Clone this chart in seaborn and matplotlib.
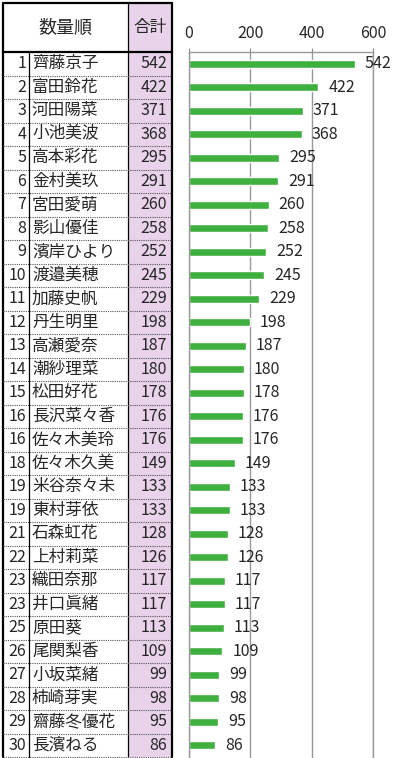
import seaborn as sns
import matplotlib.pyplot as plt
import pandas as pd

ranks = [1, 2, 3, 4, 5, 6, 7, 8, 9, 10, 11, 12, 13, 14, 15,
         16, 16, 18, 19, 19, 21, 22, 23, 23, 25, 26, 27, 28, 29, 30]
names = ["齊藤京子", "富田鈴花", "河田陽菜", "小池美波", "高本彩花", "金村美玖",
         "宮田愛萌", "影山優佳", "濱岸ひより", "渡邉美穂", "加藤史帆", "丹生明里",
         "高瀬愛奈", "潮紗理菜", "松田好花", "長沢菜々香", "佐々木美玲", "佐々木久美",
         "米谷奈々未", "東村芽依", "石森虹花", "上村莉菜", "織田奈那", "井口眞緒",
         "原田葵", "尾関梨香", "小坂菜緒", "柿崎芽実", "齋藤冬優花", "長濱ねる"]
totals = [542, 422, 371, 368, 295, 291, 260, 258, 252, 245, 229, 198, 187, 180, 178,
          176, 176, 149, 133, 133, 128, 126, 117, 117, 113, 109, 99, 98, 95, 86]
x_ticks = [0, 200, 400, 600]
header_left = "数量順"
header_sum = "合計"

sns.set_style("white")
plt.rcParams['font.family'] = ['Noto Sans CJK JP', 'DejaVu Sans']

W, H = 400, 758
fig = plt.figure(figsize=(W / 100, H / 100), dpi=100)

# table drawn in pixel coordinates
tab = fig.add_axes([0, 0, 1, 1])
tab.set_xlim(0, W)
tab.set_ylim(H, 0)
tab.axis("off")

row_h = 23.5
top, head_bot = 3, 52
x_left, x_rank, x_name, x_right = 3, 29, 128, 172
pink = "#e8d3ea"
n = len(names)
bottom = head_bot + row_h * n

tab.add_patch(plt.Rectangle((x_name, top), x_right - x_name, bottom - top,
                            facecolor=pink, edgecolor="none", zorder=0))
# vertical lines
tab.plot([x_left, x_left], [top, bottom], color="black", lw=1.6)
tab.plot([x_right, x_right], [top, bottom], color="black", lw=1.6)
tab.plot([x_name, x_name], [top, bottom], color="black", lw=0.9)
tab.plot([x_rank, x_rank], [head_bot, bottom], color="black", lw=0.9)
# horizontal lines
tab.plot([x_left, x_right], [top, top], color="black", lw=1.6)
tab.plot([x_left, x_right], [head_bot, head_bot], color="black", lw=1.6)
for i in range(1, n + 1):
    y = head_bot + row_h * i
    tab.plot([x_left, x_right], [y, y], color="#555555", lw=0.8,
             linestyle=(0, (1, 1)))

tab.text((x_left + x_name) / 2, (top + head_bot) / 2, header_left,
         ha="center", va="center", fontsize=13)
tab.text((x_name + x_right) / 2, (top + head_bot) / 2, header_sum,
         ha="center", va="center", fontsize=12)

for i, (r, nm, t) in enumerate(zip(ranks, names, totals)):
    yc = head_bot + row_h * (i + 0.5)
    tab.text(x_rank - 3, yc, str(r), ha="right", va="center", fontsize=11.5)
    tab.text(x_rank + 3, yc, nm, ha="left", va="center", fontsize=12)
    tab.text(x_right - 5, yc, str(t), ha="right", va="center", fontsize=11.5)

# bar chart
df = pd.DataFrame({"name": names, "total": totals})
ax_left, ax_right = 189, 373
ax = fig.add_axes([ax_left / W, 0, (ax_right - ax_left) / W, 1 - head_bot / H])
sns.barplot(data=df, x="total", y="name", color="#3fb040", width=0.36,
            saturation=1, ax=ax)
ax.set_xlim(0, 600)
ax.set_ylim(-0.5 + (H - head_bot) / row_h, -0.5)
ax.set_xticks(x_ticks)
ax.set_yticks([])
ax.set_xlabel("")
ax.set_ylabel("")
ax.xaxis.tick_top()
ax.tick_params(axis="x", direction="out", length=3, color="#888888",
               labelsize=11.5, pad=4)
ax.grid(axis="x", color="#999999", lw=1)
ax.set_axisbelow(True)
for side in ["top", "left", "right"]:
    ax.spines[side].set_color("#999999")
    ax.spines[side].set_linewidth(1)
ax.spines["bottom"].set_visible(False)
ax.patch.set_alpha(0)

ax.bar_label(ax.containers[0], labels=[str(t) for t in totals],
             padding=7, fontsize=11.5)

fig.savefig("out.png", dpi=100)
